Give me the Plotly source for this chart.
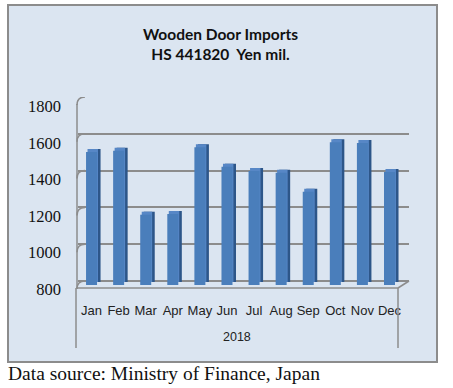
import plotly.graph_objects as go

months = ["Jan", "Feb", "Mar", "Apr", "May", "Jun", "Jul", "Aug", "Sep", "Oct", "Nov", "Dec"]
imports = [1523, 1530, 1182, 1186, 1548, 1443, 1420, 1410, 1307, 1576, 1572, 1414]
y_ticks = [800, 1000, 1200, 1400, 1600, 1800]
year_label = "2018"
title_lines = ["Wooden Door Imports", "HS 441820  Yen mil."]
source_text = "Data source: Ministry of Finance, Japan"

W, H = 453, 388
L, R, T, B = 78, 409, 97, 292  # plot area in px
PH = B - T


def px(x):
    return (x - L) / (R - L)


def py(y):
    return (B - y) / (B - T)


def axis_range(y_lo, y_hi, v_lo=800, v_hi=1800):
    """range so that v_lo sits at pixel y_lo and v_hi at pixel y_hi"""
    k = (v_hi - v_lo) / (y_lo - y_hi)
    return [v_lo - (B - y_lo) * k, v_hi + (y_hi - T) * k]


grid_rng = axis_range(281, 97)       # back wall
front_rng = axis_range(285, 101)     # bar front faces
depth_rng = axis_range(282, 98)      # bar tops/sides (3 px up)
label_rng = axis_range(289, 106.5)   # tick labels at front edge

bw = 11 / 27.09
fig = go.Figure()
fig.add_trace(go.Bar(x=months, y=imports, base=800, yaxis="y", width=bw, offset=-bw / 2 + 0.13,
                     marker=dict(color="#2d5689", line=dict(width=0)), hoverinfo="skip", showlegend=False))
fig.add_trace(go.Bar(x=months, y=[v - 800 for v in imports], base=800, yaxis="y", width=bw - 0.02,
                     offset=-bw / 2 + 0.055,
                     marker=dict(color="#5787c6", line=dict(width=0)), hoverinfo="skip", showlegend=False))
fig.add_trace(go.Bar(x=months, y=[v - 800 for v in imports], base=800, yaxis="y2", width=bw, offset=-bw / 2,
                     marker=dict(color="#4a7ebb", line=dict(width=0)), showlegend=False))
# carriers for grid axis and label axis
fig.add_trace(go.Scatter(x=months, y=imports, yaxis="y3", mode="markers", marker=dict(opacity=0),
                         hoverinfo="skip", showlegend=False))
fig.add_trace(go.Scatter(x=months, y=imports, yaxis="y4", mode="markers", marker=dict(opacity=0),
                         hoverinfo="skip", showlegend=False))
# depth trace heights are values relative to base 800
fig.data[0].y = tuple(v - 800 for v in imports)

grey = "#8c8c8c"
shapes = [
    dict(type="rect", xref="paper", yref="paper", x0=px(8), x1=px(437), y0=py(362), y1=py(5),
         fillcolor="#dbe5f1", line=dict(color="#8c8c8c", width=2), layer="below"),
    dict(type="line", xref="paper", yref="paper", x0=px(77), x1=px(77), y0=py(289), y1=py(104),
         line=dict(color=grey, width=1.5), layer="below"),
    dict(type="line", xref="paper", yref="paper", x0=px(76), x1=px(398), y0=py(288), y1=py(288),
         line=dict(color=grey, width=1.5)),
    dict(type="line", xref="paper", yref="paper", x0=px(398), x1=px(409), y0=py(288), y1=py(281),
         line=dict(color=grey, width=1.5)),
    dict(type="line", xref="paper", yref="paper", x0=px(76), x1=px(76), y0=py(288), y1=py(348),
         line=dict(color=grey, width=1.5)),
    dict(type="line", xref="paper", yref="paper", x0=px(398), x1=px(398), y0=py(288), y1=py(348),
         line=dict(color=grey, width=1.5)),
]
# curved starts of gridlines on the left wall
for v in y_ticks:
    shapes.append(dict(type="path", xref="paper", yref="y3", xsizemode="pixel", ysizemode="pixel",
                       xanchor=0, yanchor=v, path="M -1,-8 Q -1,0 7,0",
                       line=dict(color=grey, width=1.5), layer="below"))

annotations = [
    dict(text=f"<b>{title_lines[0]}</b><br><b>{title_lines[1]}</b>", xref="paper", yref="paper",
         x=px(220), y=py(44), xanchor="center", yanchor="middle", showarrow=False,
         font=dict(family="Lato, Liberation Sans", size=15.5, color="#111111")),
    dict(text=year_label, xref="paper", yref="paper", x=px(237), y=py(337),
         xanchor="center", yanchor="middle", showarrow=False,
         font=dict(family="Liberation Sans Narrow, Liberation Sans", size=12.5, color="#222222")),
    dict(text=source_text, xref="paper", yref="paper", x=px(6), y=py(373),
         xanchor="left", yanchor="middle", showarrow=False,
         font=dict(family="Liberation Serif, Times New Roman", size=19.5, color="#111111")),
]

hidden = dict(visible=False, showgrid=False, zeroline=False)
fig.update_layout(
    width=W, height=H,
    margin=dict(l=L, r=W - R, t=T, b=H - B, pad=0),
    paper_bgcolor="white", plot_bgcolor="rgba(0,0,0,0)",
    barmode="overlay",
    shapes=shapes, annotations=annotations,
    xaxis=dict(range=[-0.5, 11.72], showgrid=False, zeroline=False, showline=False, ticks="",
               tickfont=dict(family="Liberation Sans Narrow, Liberation Sans", size=13, color="#222222"),
               ticklabelstandoff=9),
    yaxis=dict(range=depth_rng, **hidden),
    yaxis2=dict(range=front_rng, overlaying="y", **hidden),
    yaxis3=dict(range=grid_rng, overlaying="y", tickvals=y_ticks, showticklabels=False, ticks="",
                showgrid=True, gridcolor=grey, gridwidth=1.8, zeroline=False, showline=False),
    yaxis4=dict(range=label_rng, overlaying="y", side="left", tickvals=y_ticks, showgrid=False,
                zeroline=False, showline=False, ticks="",
                tickfont=dict(family="Liberation Serif, Times New Roman", size=16.5, color="#111111"),
                ticklabelstandoff=16),
)

fig.write_html("out.html", config={"displayModeBar": False},
               post_script="document.body.style.margin='0';")
